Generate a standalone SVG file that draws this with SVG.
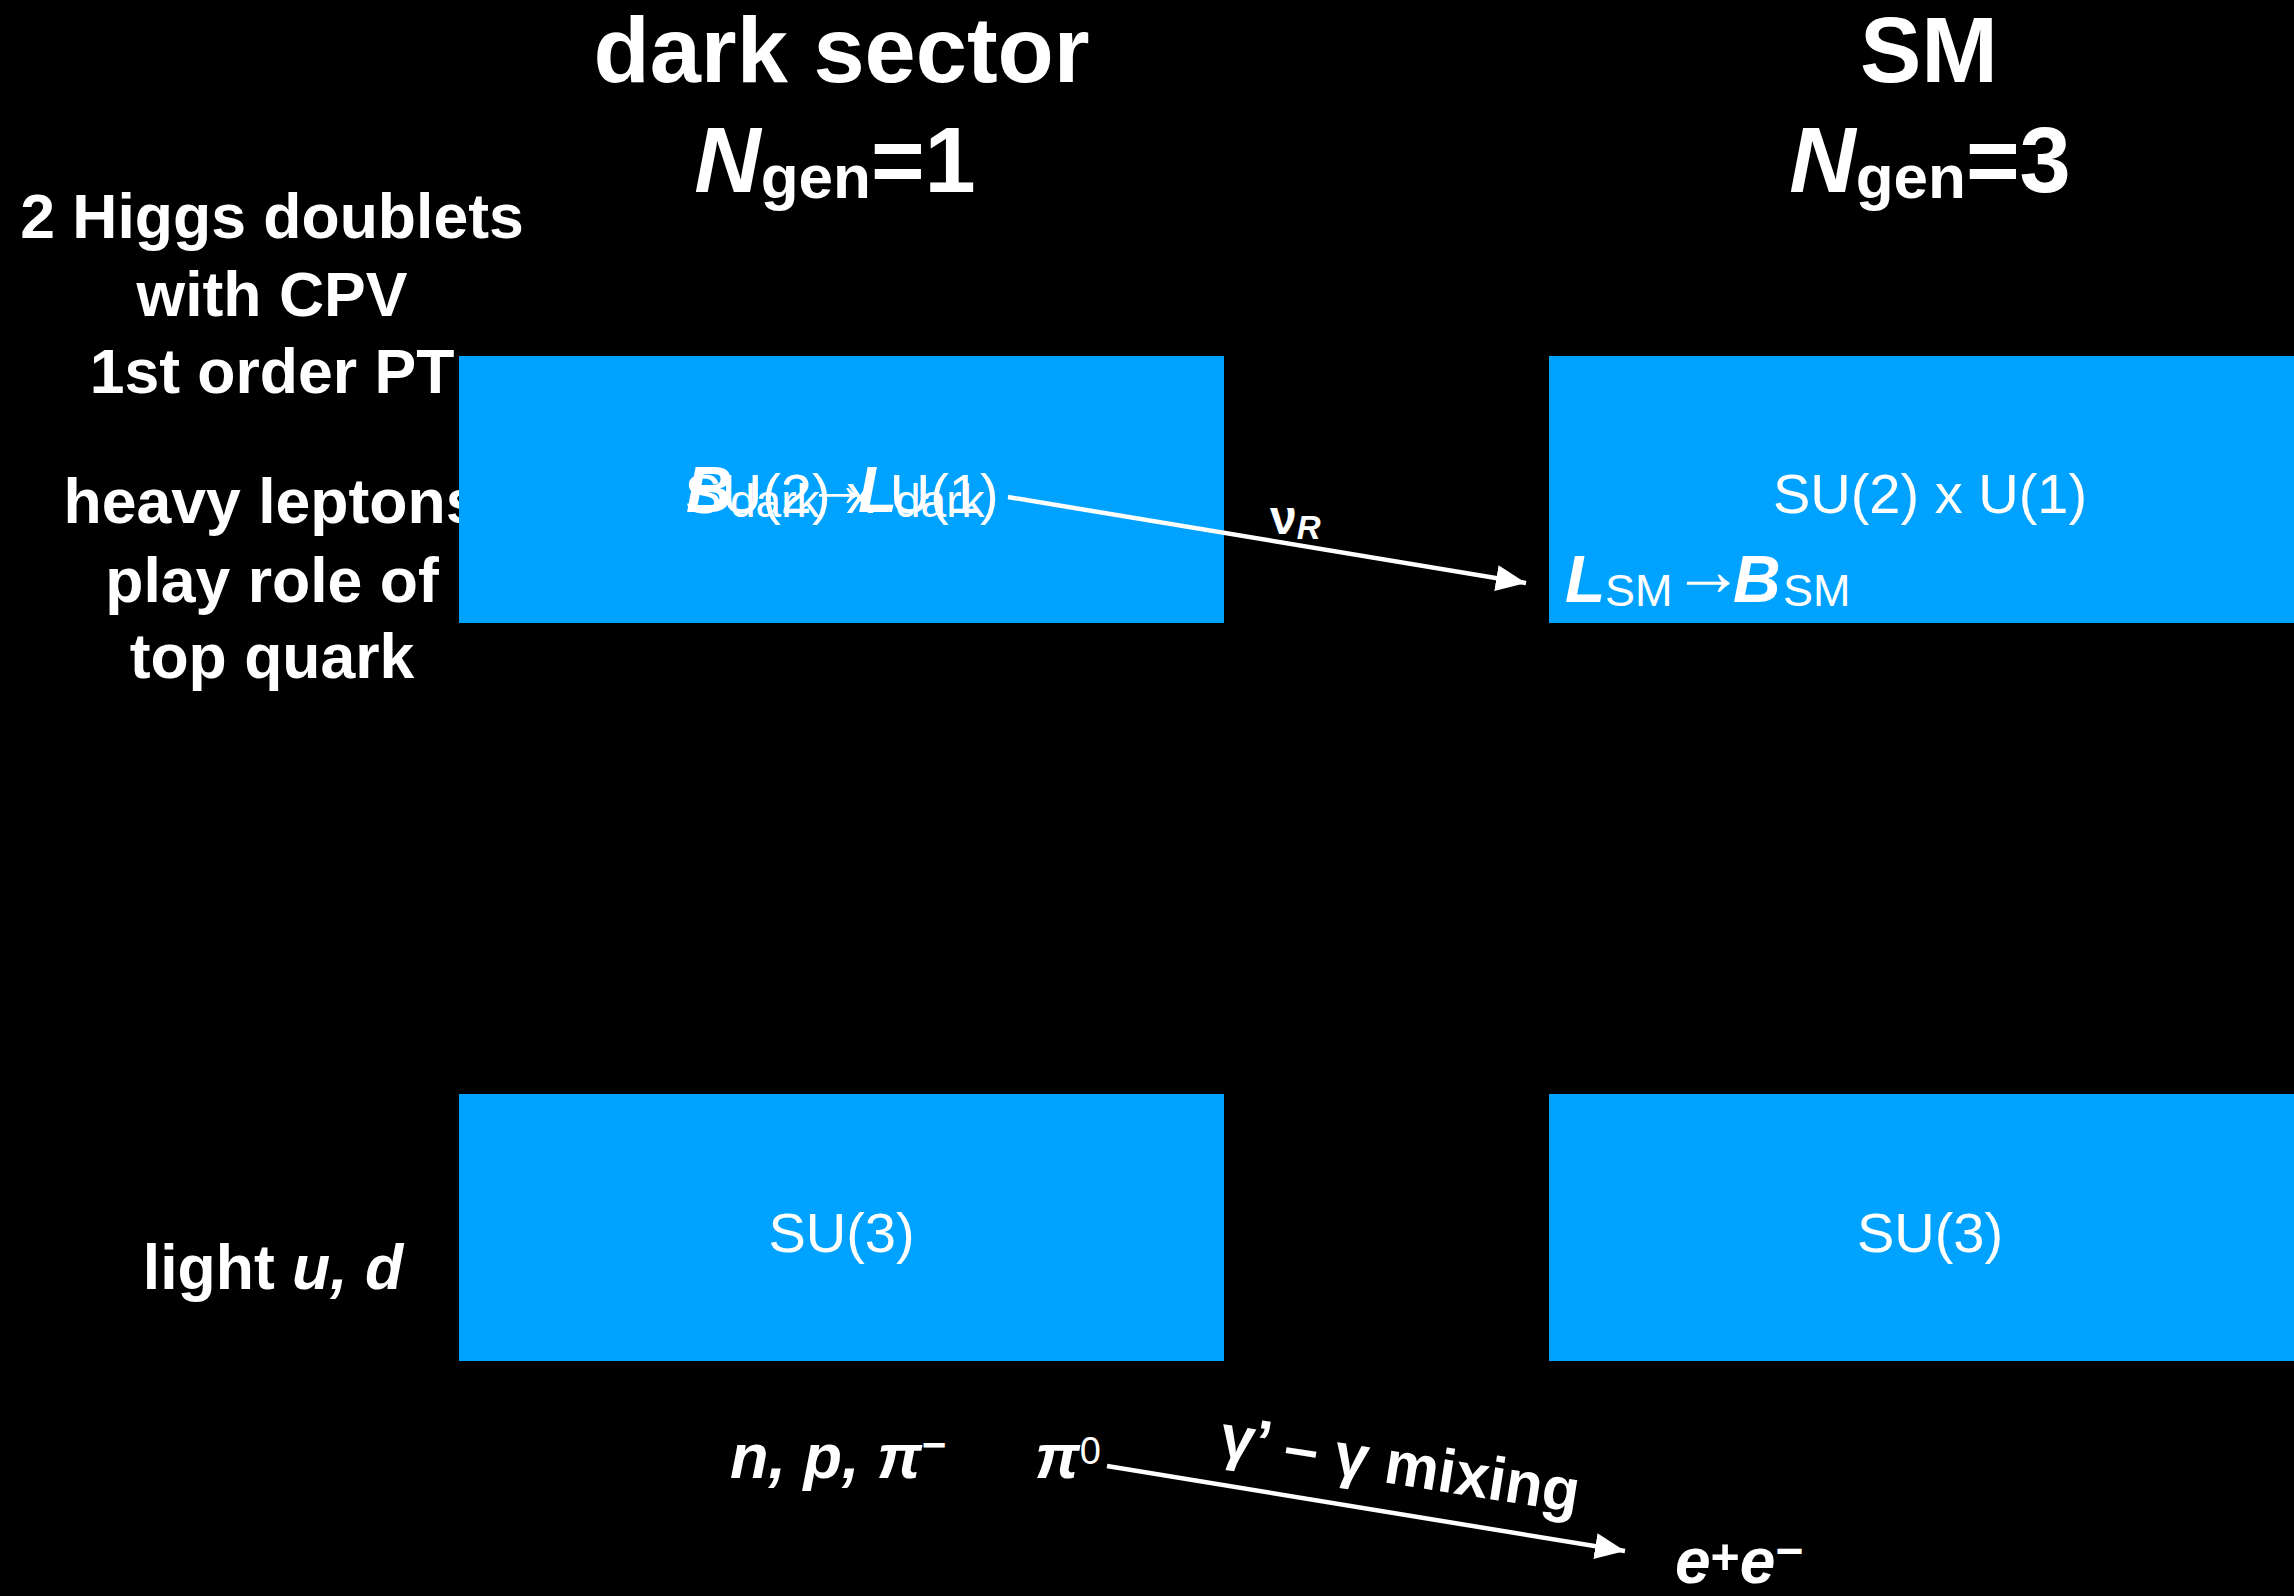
<svg xmlns="http://www.w3.org/2000/svg" width="2294" height="1596" viewBox="0 0 2294 1596">
<defs>
<style>
text{font-family:"Liberation Sans",Arial,Helvetica,sans-serif;fill:#ffffff}
.title{font-size:92px;font-weight:bold}
.side{font-size:62.5px;font-weight:bold}
.box{fill:#00A2FF}
.grp{font-size:56px}
.bi{font-weight:bold;font-style:italic}
.conn{stroke:#ffffff;stroke-width:4.5;fill:none}
</style>
<marker id="ah" markerUnits="userSpaceOnUse" markerWidth="34" markerHeight="30" refX="30" refY="13" orient="auto">
<path d="M0,0 L30,13 L0,26 z" fill="#ffffff"/>
</marker>
</defs>
<rect width="2294" height="1596" fill="#000000"/>

<g id="headers">
<text class="title" x="841.5" y="82" text-anchor="middle">dark sector</text>
<text class="title" x="835" y="192" text-anchor="middle"><tspan font-style="italic">N</tspan><tspan font-size="62" dy="6">gen</tspan><tspan dy="-6">=1</tspan></text>
<text class="title" x="1929" y="82" text-anchor="middle">SM</text>
<text class="title" x="1930" y="192" text-anchor="middle"><tspan font-style="italic">N</tspan><tspan font-size="62" dy="6">gen</tspan><tspan dy="-6">=3</tspan></text>
</g>

<g id="side-notes">
<text class="side" x="272" y="238" text-anchor="middle">2 Higgs doublets</text>
<text class="side" x="272" y="316" text-anchor="middle">with CPV</text>
<text class="side" x="272" y="393" text-anchor="middle">1st order PT</text>
<text class="side" x="272" y="523" text-anchor="middle">heavy leptons</text>
<text class="side" x="272" y="602" text-anchor="middle">play role of</text>
<text class="side" x="272" y="678" text-anchor="middle">top quark</text>
<text class="side" x="273" y="1289" text-anchor="middle" font-size="64">light <tspan font-style="italic">u, d</tspan></text>
</g>

<g id="dark-ew">
<rect class="box" x="459" y="356" width="765" height="267"/>
<text class="grp" x="841.5" y="513" text-anchor="middle">SU(2) x U(1)</text>
<text><tspan class="bi" x="686" y="512" font-size="64">B</tspan><tspan x="730" y="517" font-size="46">dark</tspan><tspan x="806" y="506" font-size="64">→</tspan><tspan class="bi" x="858" y="512" font-size="64">L</tspan><tspan x="895" y="517" font-size="46">dark</tspan></text>
</g>

<g id="sm-ew">
<rect class="box" x="1549" y="356" width="765" height="267"/>
<text class="grp" x="1930" y="513" text-anchor="middle">SU(2) x U(1)</text>
<text><tspan class="bi" x="1565" y="602" font-size="66">L</tspan><tspan x="1605" y="606" font-size="45">SM</tspan><tspan x="1672" y="595" font-size="72">→</tspan><tspan class="bi" x="1733" y="602" font-size="66">B</tspan><tspan x="1783" y="606" font-size="45">SM</tspan></text>
</g>

<g id="dark-qcd">
<rect class="box" x="459" y="1094" width="765" height="267"/>
<text class="grp" x="841.5" y="1252" text-anchor="middle">SU(3)</text>
</g>

<g id="sm-qcd">
<rect class="box" x="1549" y="1094" width="765" height="267"/>
<text class="grp" x="1930" y="1252" text-anchor="middle">SU(3)</text>
</g>

<g id="hadrons">
<text class="bi" x="730" y="1478" font-size="63">n, p, π<tspan font-size="42" font-style="normal" dy="-19">−</tspan></text>
<text class="bi" x="1035" y="1478" font-size="63">π<tspan font-size="38" font-style="normal" font-weight="normal" dy="-14">0</tspan></text>
</g>

<g id="leptons">
<text class="bi" x="1675" y="1583" font-size="64">e<tspan font-size="50" font-style="normal" dy="-9">+</tspan><tspan dy="9">e</tspan><tspan font-size="48" font-style="normal" dy="-16">−</tspan></text>
</g>

<g id="connectors">
<line class="conn" x1="1008" y1="497" x2="1526" y2="583" marker-end="url(#ah)"/>
<text x="1270" y="534" font-size="48" font-weight="bold">ν<tspan class="bi" font-size="33" dy="5">R</tspan></text>
<line class="conn" x1="1107" y1="1466" x2="1625" y2="1551" marker-end="url(#ah)"/>
<text x="1218" y="1456" font-size="61" font-weight="bold" transform="rotate(9 1218 1456)">γ’ – γ mixing</text>
</g>
</svg>
